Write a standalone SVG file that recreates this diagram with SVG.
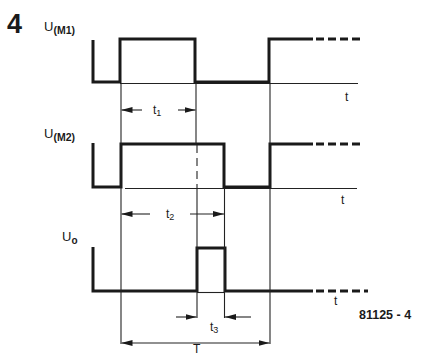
<svg xmlns="http://www.w3.org/2000/svg" width="421" height="356" viewBox="0 0 421 356">
<defs>
<marker id="ah" viewBox="0 0 11 6" refX="11" refY="3" markerWidth="11" markerHeight="6" markerUnits="userSpaceOnUse" orient="auto">
<path d="M0,0 L11,3 L0,6 z" fill="#1a1a1a"/>
</marker>
<style>
.w{fill:none;stroke:#1a1a1a;stroke-width:3;stroke-linejoin:miter}
.d{fill:none;stroke:#1a1a1a;stroke-width:3;stroke-dasharray:8 4}
.g{fill:none;stroke:#222;stroke-width:1.1}
.a{fill:none;stroke:#222;stroke-width:1.1;marker-end:url(#ah)}
.lbl{font-family:"Liberation Sans",Arial,sans-serif;fill:#1a1a1a}
.t{font-family:"Liberation Sans",Arial,sans-serif;fill:#1a1a1a;font-size:12px}
</style>
</defs>
<rect width="421" height="356" fill="#fff"/>
<text class="lbl" x="7" y="33" font-size="27" font-weight="bold">4</text>
<g id="M1">
<text class="lbl" x="44" y="31" font-size="13">U<tspan font-size="10.5" font-weight="bold" dy="3">(M1)</tspan></text>
<line class="g" x1="120" y1="83.5" x2="358" y2="83.5"/>
<path class="w" d="M93,40 V82 H120 V39 H195 V82 H269 V39 H313"/>
<line class="d" x1="316" y1="39" x2="360" y2="39"/>
<text class="t" x="345" y="101">t</text>
</g>
<g id="M2">
<text class="lbl" x="44" y="138" font-size="13">U<tspan font-size="10.5" font-weight="bold" dy="3">(M2)</tspan></text>
<line class="g" x1="125" y1="188.5" x2="357" y2="188.5"/>
<path class="w" d="M93,143 V187 H121 V144 H224 V187 H270 V144 H313"/>
<line class="d" x1="316" y1="144" x2="360" y2="144"/>
<text class="t" x="341" y="204">t</text>
</g>
<g id="Uo">
<text class="lbl" x="62" y="241" font-size="13">U<tspan font-size="10" font-weight="bold" dy="3">o</tspan></text>
<line class="g" x1="197" y1="292.5" x2="225" y2="292.5"/>
<path class="w" d="M93,247 V291 H197 V248 H225 V291 H313"/>
<line class="d" x1="316" y1="291" x2="368" y2="291"/>
<text class="t" x="334" y="305">t</text>
</g>
<g id="connectors">
<line class="g" x1="121" y1="84" x2="121" y2="344"/>
<line class="g" x1="196" y1="84" x2="196" y2="145"/>
<line class="g" x1="197" y1="145" x2="197" y2="187" stroke-dasharray="8 5"/>
<line class="g" x1="197" y1="187" x2="197" y2="318"/>
<line class="g" x1="224.5" y1="188" x2="224.5" y2="318"/>
<line class="g" x1="270" y1="84" x2="270" y2="344"/>
<line class="a" x1="142" y1="110" x2="121.5" y2="110"/>
<line class="a" x1="178" y1="110" x2="195.5" y2="110"/>
<line class="a" x1="150" y1="214" x2="121.5" y2="214"/>
<line class="a" x1="190" y1="214" x2="224" y2="214"/>
<line class="a" x1="176" y1="317" x2="196.5" y2="317"/>
<line class="a" x1="251" y1="317" x2="225" y2="317"/>
<line class="a" x1="196" y1="343" x2="121.5" y2="343"/>
<line class="a" x1="196" y1="343" x2="269.5" y2="343"/>
</g>
<text class="t" x="153" y="114">t<tspan font-size="9" dy="2">1</tspan></text>
<text class="t" x="166" y="218">t<tspan font-size="9" dy="2">2</tspan></text>
<text class="t" x="210" y="331">t<tspan font-size="9" dy="2">3</tspan></text>
<text class="t" x="193" y="353" font-size="10">T</text>
<text class="lbl" x="359" y="319" font-size="12.5" font-weight="bold">81125 - 4</text>
</svg>
